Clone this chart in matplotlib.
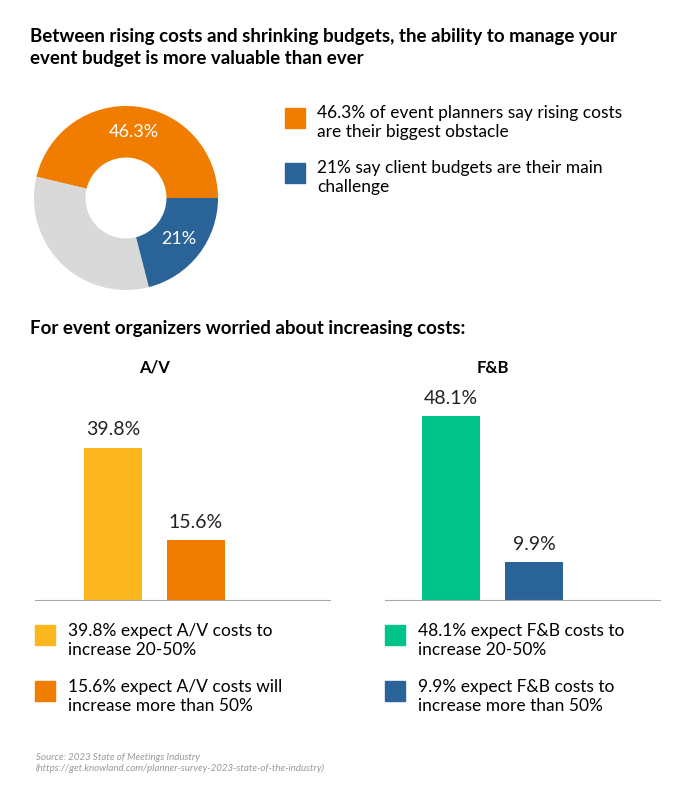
import numpy as np
import matplotlib.pyplot as plt
from matplotlib.patches import Rectangle

plt.rcParams['font.family'] = ['Lato', 'DejaVu Sans']

W, H = 700, 797
ORANGE, BLUE, GRAY = '#F07C00', '#2A6397', '#D9D9D9'
YELLOW, GREEN = '#FDB71E', '#00C389'

donut_vals = [46.3, 32.7, 21.0]
donut_colors = [ORANGE, GRAY, BLUE]
donut_labels = ['46.3%', '', '21%']
donut_legend = ['46.3% of event planners say rising costs\nare their biggest obstacle',
                '21% say client budgets are their main\nchallenge']

av_vals = [39.8, 15.6]
fb_vals = [48.1, 9.9]
av_legend = ['39.8% expect A/V costs to\nincrease 20-50%',
             '15.6% expect A/V costs will\nincrease more than 50%']
fb_legend = ['48.1% expect F&B costs to\nincrease 20-50%',
             '9.9% expect F&B costs to\nincrease more than 50%']

fig = plt.figure(figsize=(W / 100, H / 100), dpi=100)


def ax_px(x0, y0, x1, y1):
    return fig.add_axes([x0 / W, 1 - y1 / H, (x1 - x0) / W, (y1 - y0) / H])


def ftext(x, y, s, **kw):
    fig.text(x / W, 1 - y / H, s, **kw)


def swatch(x, y, c, s=20):
    fig.patches.append(Rectangle((x / W, 1 - (y + s) / H), s / W, s / H,
                                 color=c, transform=fig.transFigure))


ftext(30, 28, 'Between rising costs and shrinking budgets, the ability to manage your\n'
      'event budget is more valuable than ever', fontsize=13.5, fontweight='bold',
      va='top', linespacing=1.35)

# donut
ax = ax_px(34, 106, 218, 290)
wedges, texts = ax.pie(donut_vals, colors=donut_colors, startangle=0, counterclock=True,
                       radius=1, wedgeprops=dict(width=0.56, edgecolor='none'))
for w, lab in zip(wedges, donut_labels):
    ang = np.deg2rad((w.theta1 + w.theta2) / 2)
    ax.text(0.72 * np.cos(ang), 0.72 * np.sin(ang), lab, color='white',
            fontsize=13, ha='center', va='center')
ax.set_xlim(-1, 1)
ax.set_ylim(-1, 1)
ax.set_aspect('equal')

for i, (t, c) in enumerate(zip(donut_legend, [ORANGE, BLUE])):
    y = 108 + i * 55
    swatch(285, y, c)
    ftext(317, y - 3, t, fontsize=12.5, va='top', linespacing=1.2)

ftext(30, 320, 'For event organizers worried about increasing costs:',
      fontsize=13.5, fontweight='bold', va='top')


def bars(x0, x1, pos, vals, colors, title, legend):
    ax = ax_px(x0, 400, x1, 600)
    ax.bar(pos, vals, width=58, color=colors)
    ax.set_xlim(0, x1 - x0)
    ax.set_ylim(0, 52.3)
    for p, v in zip(pos, vals):
        ax.text(p, v + 2.5, f'{v}%', ha='center', va='bottom', fontsize=14, color='#222222')
    for s in ['top', 'left', 'right']:
        ax.spines[s].set_visible(False)
    ax.spines['bottom'].set_color('#AAAAAA')
    ax.set_xticks([])
    ax.set_yticks([])
    ftext(x0 + (pos[0] + pos[1]) / 2, 368, title, fontsize=12, fontweight='bold',
          ha='center', va='center')
    for i, (t, c) in enumerate(zip(legend, colors)):
        y = 625 + i * 56
        swatch(x0, y, c)
        ftext(x0 + 33, y - 2, t, fontsize=12.5, va='top', linespacing=1.2)


bars(35, 330, [78, 161], av_vals, [YELLOW, ORANGE], 'A/V', av_legend)
bars(385, 660, [66, 149], fb_vals, [GREEN, BLUE], 'F&B', fb_legend)

ftext(36, 753, 'Source: 2023 State of Meetings Industry\n'
      '(https://get.knowland.com/planner-survey-2023-state-of-the-industry)',
      fontsize=7, style='italic', color='#999999', va='top')

fig.savefig('out.png', dpi=100)
